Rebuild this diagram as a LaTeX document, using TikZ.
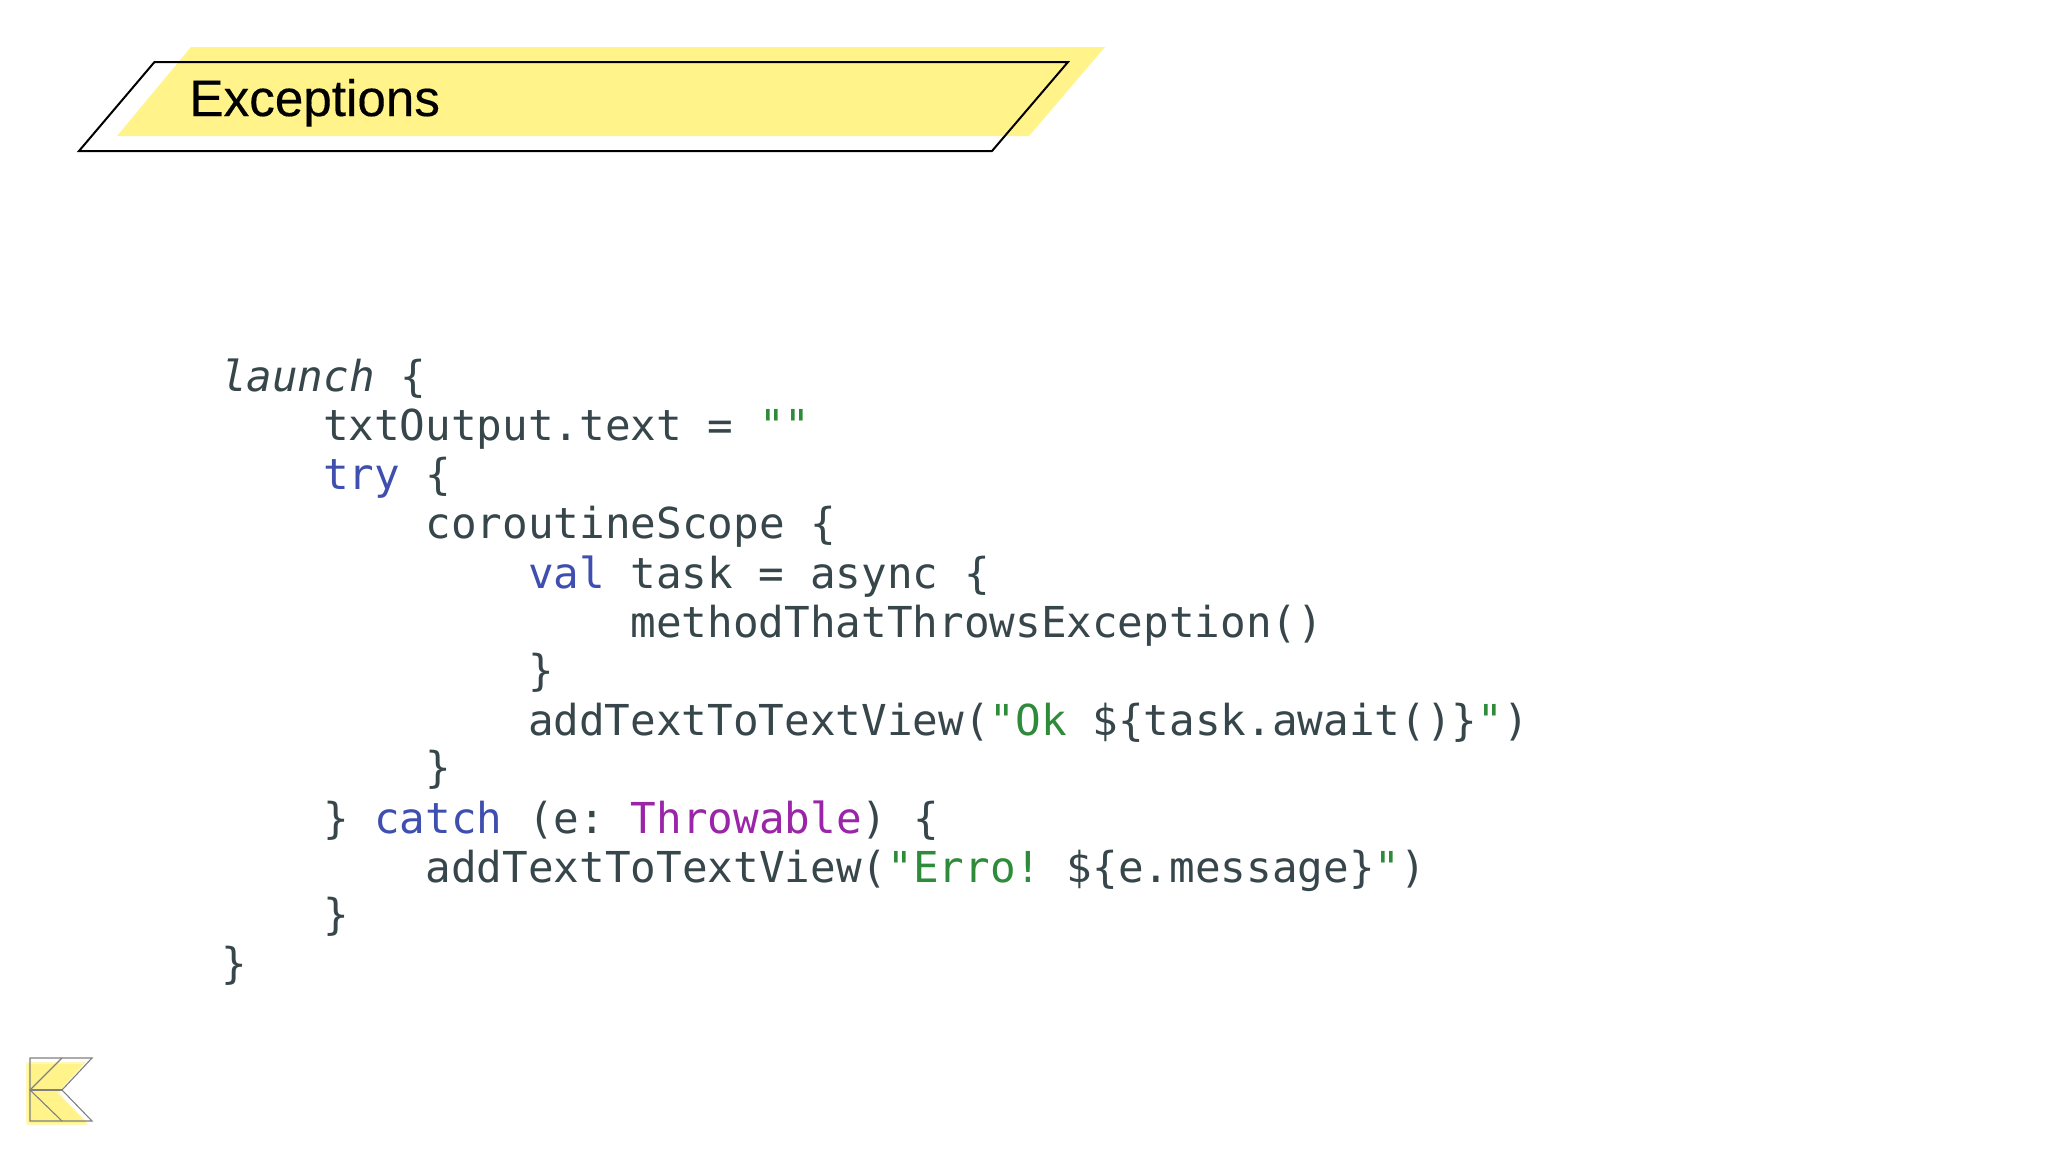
\documentclass[tikz,border=0pt]{standalone}
\usepackage{fontspec}
\usepackage{xcolor}
\newfontfamily\codefont{DejaVu Sans Mono}
\newfontfamily\titlefont[FakeBold=0.3]{Liberation Sans}
\definecolor{bandyellow}{HTML}{FFF38A}
\definecolor{codeink}{HTML}{36464B}
\definecolor{kw}{HTML}{3F4FB0}
\definecolor{str}{HTML}{2E8B3A}
\definecolor{typ}{HTML}{9A25A8}
\newcommand{\K}[1]{\textcolor{kw}{#1}}
\newcommand{\St}[1]{\textcolor{str}{#1}}
\newcommand{\Ty}[1]{\textcolor{typ}{#1}}
\frenchspacing
\tikzset{
  x=1pt,y=-1pt,
  codeline/.style={anchor=base west,inner sep=0pt,outer sep=0pt,text=codeink,font=\fontsize{42.62}{49}\selectfont\frenchspacing\codefont},
  titletext/.style={anchor=base west,inner sep=0pt,outer sep=0pt,text=black,font=\fontsize{51.2}{58}\selectfont\titlefont},
  logoline/.style={draw=black!50,line width=1.1pt,line join=miter}
}
\begin{document}
\begin{tikzpicture}
\useasboundingbox (0,0) rectangle (2048,1152);
\fill[white] (0,0) rectangle (2048,1152);
% title band
\fill[bandyellow] (191,47) -- (1105,47) -- (1029,136) -- (117,136) -- cycle;
\draw[black,line width=2pt,line join=miter] (154.5,62) -- (1068,62) -- (992,151) -- (79,151) -- cycle;
\node[titletext] (title) at (189.5,116) {Exceptions};
% code
\node[codeline] (l1) at (221,391) {\itshape launch\upshape{} \{};
\node[codeline] (l2) at (323,440.5) {txtOutput.text = \St{""}};
\node[codeline] (l3) at (323,489.5) {\K{try} \{};
\node[codeline] (l4) at (425.5,538.5) {coroutineScope \{};
\node[codeline] (l5) at (528,588) {\K{val} task = async \{};
\node[codeline] (l6) at (630.5,637) {methodThatThrowsException()};
\node[codeline] (l7) at (528,685) {\}};
\node[codeline] (l8) at (528,735) {addTextToTextView(\St{"Ok }\$\{task.await()\}\St{"})};
\node[codeline] (l9) at (425.5,782.5) {\}};
\node[codeline] (l10) at (323,833) {\} \K{catch} (e: \Ty{Throwable}) \{};
\node[codeline] (l11) at (425.5,882) {addTextToTextView(\St{"Erro! }\$\{e.message\}\St{"})};
\node[codeline] (l12) at (323,929.5) {\}};
\node[codeline] (l13) at (221,978) {\}};
% logo
\fill[bandyellow!60,rounded corners=2pt] (26,1062) -- (86,1062) -- (59,1093) -- (89,1125) -- (26,1125) -- cycle;
\fill[bandyellow,rounded corners=1pt] (28,1064) -- (83,1064) -- (57,1093) -- (87,1123) -- (28,1123) -- cycle;
\draw[logoline] (30,1058) -- (92,1058) -- (62,1090) -- (92,1121) -- (30,1121) -- cycle;
\draw[logoline] (62,1058) -- (30,1090) -- (62,1121);
\draw[logoline] (30,1090) -- (62,1090);
\end{tikzpicture}
\end{document}
